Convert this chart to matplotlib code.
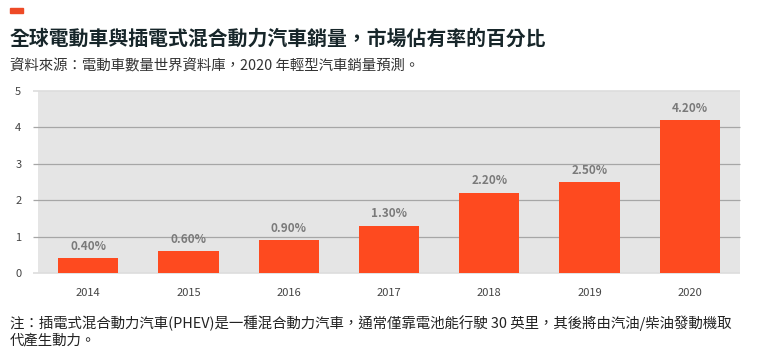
import matplotlib
matplotlib.use('Agg')
import matplotlib.pyplot as plt
import matplotlib.patches as patches

plt.rcParams['font.family'] = ['Noto Sans CJK TC', 'DejaVu Sans']

years = ['2014', '2015', '2016', '2017', '2018', '2019', '2020']
share = [0.4, 0.6, 0.9, 1.3, 2.2, 2.5, 4.2]
yticks = [0, 1, 2, 3, 4, 5]

title = '全球電動車與插電式混合動力汽車銷量，市場佔有率的百分比'
subtitle = '資料來源：電動車數量世界資料庫，2020 年輕型汽車銷量預測。'
note = ('注：插電式混合動力汽車(PHEV)是一種混合動力汽車，通常僅靠電池能行駛 30 英里，其後將由汽油/柴油發動機取\n'
        '代產生動力。')

W, H = 764, 361
fig = plt.figure(figsize=(W / 100, H / 100), dpi=100)
ax = fig.add_axes([38 / W, 1 - 273 / H, (740 - 38) / W, (273 - 91) / H])

ax.set_facecolor('#e5e5e5')
x = range(len(years))
ax.bar(x, share, width=0.6, color='#fe4a1f', zorder=3)
for i, v in zip(x, share):
    ax.text(i, v + 0.15, f'{v:.2f}%', ha='center', va='bottom',
            fontsize=8.5, fontweight='bold', color='#7a7a7a', zorder=4)

ax.set_xlim(-0.5, len(years) - 0.5)
ax.set_ylim(0, 5)
ax.set_yticks(yticks)
ax.set_xticks(list(x))
ax.set_xticklabels(years)
ax.tick_params(length=0, labelsize=8, colors='#444444')
ax.tick_params(axis='x', pad=11)
ax.tick_params(axis='y', pad=12)

# gridlines stick out a little to the left of the grey area
for t in yticks:
    if t in (0, 5):
        c, lw = '#dddddd', 1.2
    else:
        c, lw = '#a6a6a6', 0.9
    ax.hlines(t, -0.55, len(years) - 0.5, color=c, linewidth=lw,
              clip_on=False, zorder=1)
for s in ax.spines.values():
    s.set_visible(False)

fig.patches.append(patches.Rectangle((10 / W, 1 - 13 / H), 13 / W, 5 / H,
                                     transform=fig.transFigure, color='#ee4a26'))
fig.text(10 / W, 1 - 38 / H, title, fontsize=14.3, fontweight='bold',
         color='#17262a', va='center')
fig.text(10 / W, 1 - 66 / H, subtitle, fontsize=10.4, color='#333333', va='center')
fig.text(10 / W, 1 - 331 / H, note, fontsize=10.4, color='#222222', va='center',
         linespacing=1.25)

fig.savefig('out.png', dpi=100)
